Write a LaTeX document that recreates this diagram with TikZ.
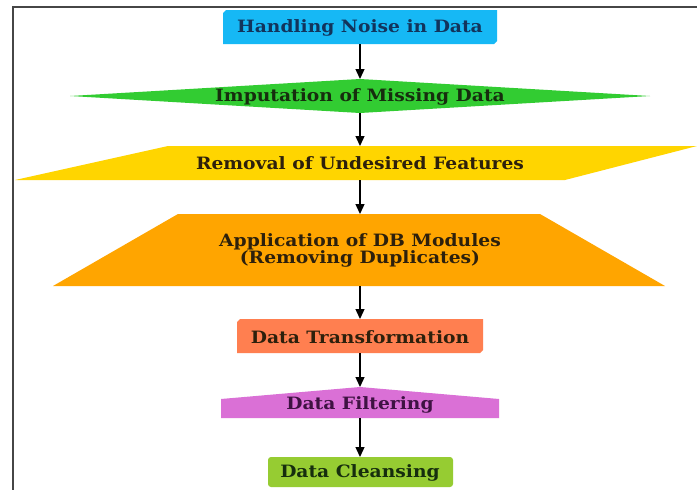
\documentclass[tikz,border=0pt]{standalone}
\usepackage{fontspec}
\setmainfont{DejaVu Serif}[FakeStretch=1.1]
\usetikzlibrary{arrows.meta}

\definecolor{cNoise}{RGB}{22,184,245}
\definecolor{cImp}{RGB}{50,204,50}
\definecolor{cRem}{RGB}{255,213,0}
\definecolor{cApp}{RGB}{255,165,0}
\definecolor{cTrans}{RGB}{255,127,80}
\definecolor{cFilt}{RGB}{218,112,214}
\definecolor{cClean}{RGB}{150,204,50}
\definecolor{tNoise}{RGB}{18,52,92}
\definecolor{tDark}{RGB}{45,32,12}
\definecolor{tFilt}{RGB}{62,18,66}
\definecolor{tGreen}{RGB}{22,46,14}
\definecolor{frame}{RGB}{70,70,70}

\tikzset{
  box/.style={inner sep=0pt, outer sep=0pt},
  lbl/.style={font=\fontsize{17}{16.5}\selectfont\bfseries, align=center, inner sep=0pt},
  flow/.style={line width=1.3pt, -{Triangle[length=10pt,width=9pt]}}
}

\begin{document}
\begin{tikzpicture}[x=1pt, y=-1pt]
\useasboundingbox (0,0) rectangle (697,490);
\fill[white] (0,0) rectangle (697,490);

% frame lines
\draw[frame, line width=1.2pt] (13,490) -- (13,7) -- (697,7);

% bounding nodes for each step
\node[box, minimum width=274pt, minimum height=34pt] (noise) at (360,27) {};
\node[box, minimum width=580pt, minimum height=34pt] (imp) at (360,96) {};
\node[box, minimum width=682pt, minimum height=34pt] (rem) at (356,163) {};
\node[box, minimum width=612pt, minimum height=72pt] (app) at (359,250) {};
\node[box, minimum width=246pt, minimum height=34pt] (trans) at (360,336) {};
\node[box, minimum width=278pt, minimum height=31pt] (filt) at (360,402.5) {};
\node[box, minimum width=185pt, minimum height=30pt] (clean) at (360.5,472) {};

% shapes
\fill[cNoise] (noise.north west) ++(0,3) -- ++(3,-3) -- (noise.north east) -- ++(0,31) -- ++(-3,3) -- (noise.south west) -- cycle;
\fill[cImp] (imp.west) -- (imp.north) -- (imp.east) -- (imp.south) -- cycle;
\fill[cRem] (168,146) -- (697,146) -- (565,180) -- (15,180) -- cycle;
\fill[cApp] (178,214) -- (540,214) -- (665,286) -- (53,286) -- cycle;
\fill[cTrans] (trans.north west) ++(0,3) -- ++(3,-3) -- (trans.north east) -- ++(0,31) -- ++(-3,3) -- (trans.south west) -- cycle;
\fill[cFilt] (filt.north) -- (499,399) -- (filt.south east) -- (filt.south west) -- (221,399) -- cycle;
\fill[cClean, rounded corners=3pt] (clean.north west) rectangle (clean.south east);

% labels
\node[lbl, text=tNoise] (noiseT) at (360,28) {Handling Noise in Data};
\node[lbl, text=tGreen] (impT) at (360,97) {Imputation of Missing Data};
\node[lbl, text=tDark] (remT) at (360,163.5) {Removal of Undesired Features};
\node[lbl, text=tDark] (appT) at (360,250.5) {Application of DB Modules\\(Removing Duplicates)};
\node[lbl, text=tDark] (transT) at (360,337.5) {Data Transformation};
\node[lbl, text=tFilt] (filtT) at (360,405) {Data Filtering};
\node[lbl, text=tGreen] (cleanT) at (360,472.5) {Data Cleansing};

% connectors
\draw[flow] (noise.south) -- (imp.north);
\draw[flow] (imp.south) -- (rem.north -| imp.south);
\draw[flow] (rem.south -| imp.south) -- (app.north -| imp.south);
\draw[flow] (app.south -| imp.south) -- (trans.north);
\draw[flow] (trans.south) -- (filt.north);
\draw[flow] (filt.south) -- (clean.north -| filt.south);
\end{tikzpicture}
\end{document}
